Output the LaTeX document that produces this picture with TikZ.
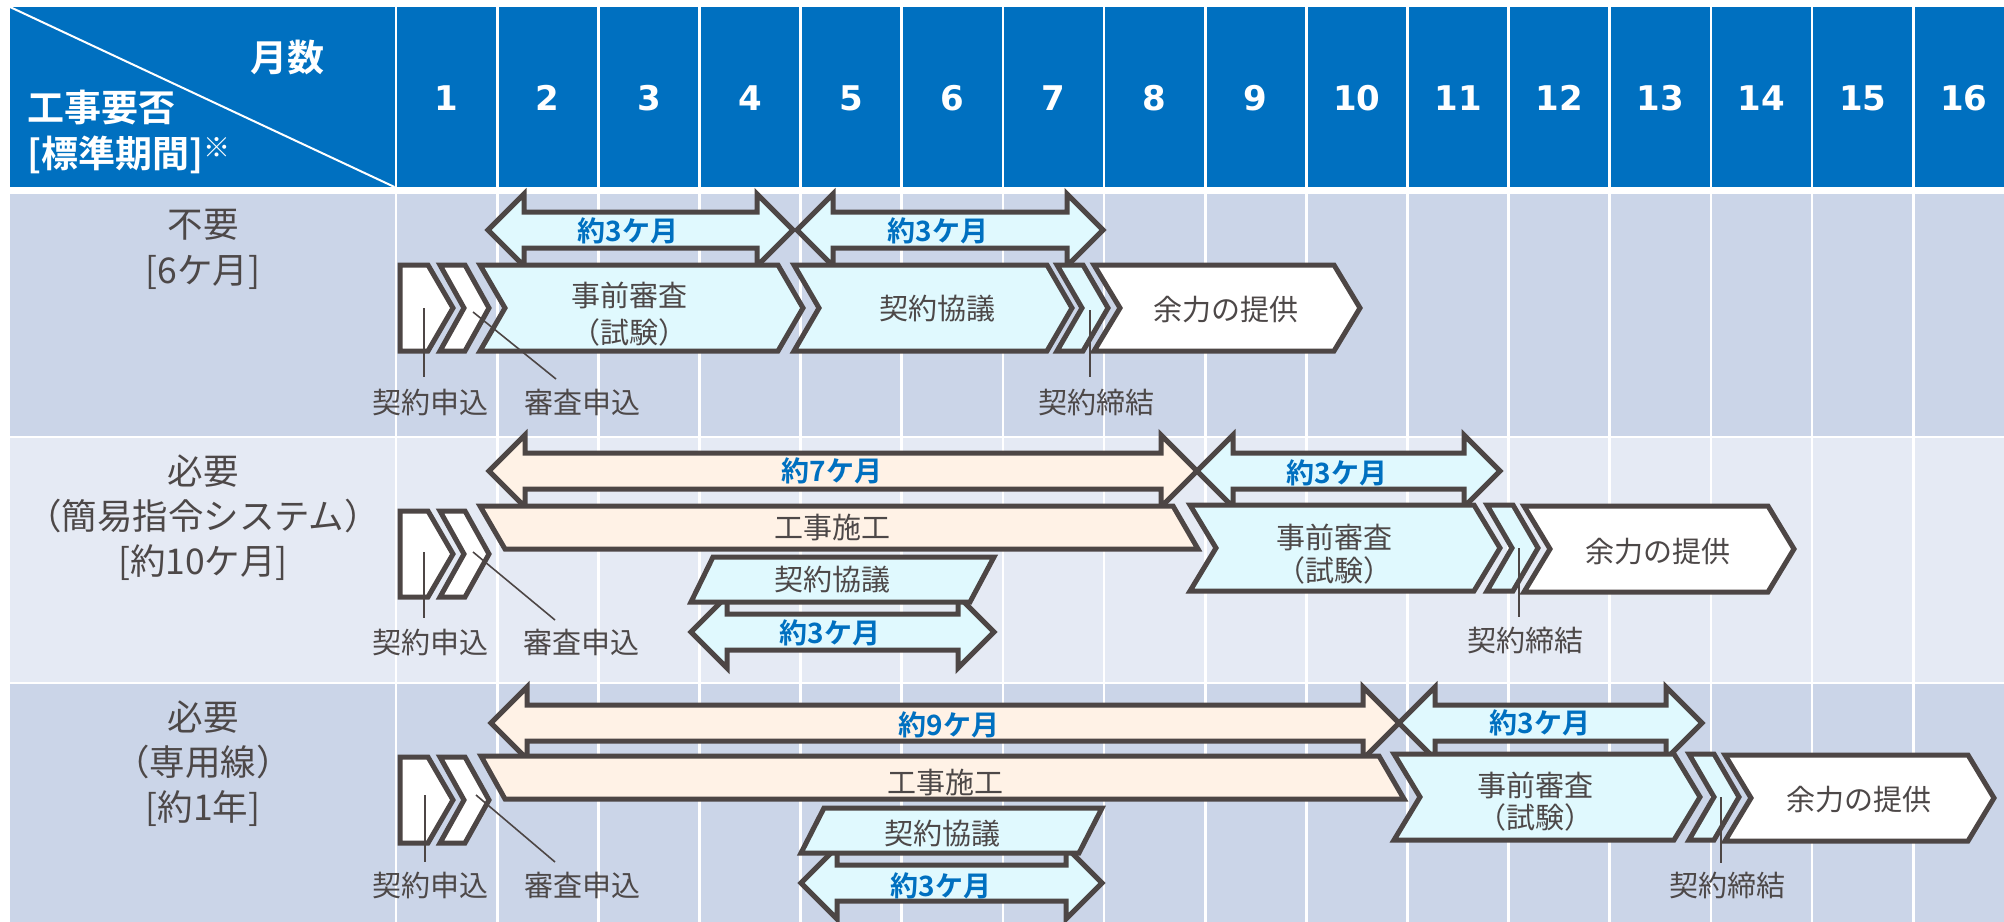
\documentclass[tikz,border=0pt]{standalone}
\usepackage{fontspec}
\setmainfont{Noto Sans CJK JP}[BoldFont={Noto Sans CJK JP Bold}]
\newfontfamily\numfont{DejaVu Sans}
\definecolor{hdrblue}{HTML}{0070C0}
\definecolor{rowA}{HTML}{CBD5E8}
\definecolor{rowB}{HTML}{E5EAF4}
\definecolor{cyanf}{HTML}{E0F9FE}
\definecolor{peach}{HTML}{FFF2E6}
\definecolor{edge}{HTML}{4D4645}
\definecolor{txt}{HTML}{4D4848}
\definecolor{blu}{HTML}{0070C0}
\tikzset{
  lab/.style={font=\fontsize{29bp}{34bp}\selectfont, text=txt, inner sep=0pt},
  big/.style={font=\fontsize{35.5bp}{40bp}\selectfont, text=txt, inner sep=0pt},
  dur/.style={font=\bfseries\fontsize{28bp}{32bp}\selectfont, text=blu, inner sep=0pt},
  hdr/.style={font=\bfseries\fontsize{37bp}{42bp}\selectfont, text=white, inner sep=0pt},
  num/.style={font=\numfont\bfseries\fontsize{34bp}{38bp}\selectfont, text=white, inner sep=0pt},
  shp/.style={draw=edge, line width=5bp, line join=miter},
  cy/.style={shp, fill=cyanf},
  pe/.style={shp, fill=peach},
  wh/.style={shp, fill=white},
  lead/.style={draw=edge, line width=1.6bp},
}
% chevron: style, TL x, TR x, depth, centre y
\newcommand\mychev[5]{\draw[#1] (#2,{#5-43}) -- (#3,{#5-43}) -- ({#3+#4},#5) -- (#3,{#5+43}) -- (#2,{#5+43}) -- ({#2+#4},#5) -- cycle;}
% box with pointed end
\newcommand\mybox[5]{\draw[#1] (#2,{#5-43}) -- (#3,{#5-43}) -- ({#3+#4},#5) -- (#3,{#5+43}) -- (#2,{#5+43}) -- cycle;}
% double arrow: style, left tip, right tip, centre y
\newcommand\mydarr[4]{\draw[#1] (#2,#4) -- ({#2+36},{#4-36}) -- ({#2+36},{#4-18}) -- ({#3-36},{#4-18}) -- ({#3-36},{#4-36}) -- (#3,#4) -- ({#3-36},{#4+36}) -- ({#3-36},{#4+18}) -- ({#2+36},{#4+18}) -- ({#2+36},{#4+36}) -- cycle;}
\begin{document}
\begin{tikzpicture}[x=1bp,y=-1bp]
\useasboundingbox (0,0) rectangle (2004,922);
\fill[white] (0,0) rectangle (2004,922);
% grid
\fill[hdrblue] (10,7) rectangle (2004,187);
\fill[rowA] (10,194) rectangle (2004,435.5);
\fill[rowB] (10,438) rectangle (2004,681.5);
\fill[rowA] (10,684) rectangle (2004,922);
\foreach \k in {0,...,15} \fill[white] ({396+\k*101.15-1.35},7) rectangle ++(2.7,915);
\draw[white, line width=2bp] (10,7) -- (394.5,187);
% header
\node[hdr] (hm) at (287,57) {月数};
\node[hdr, anchor=west] (hk) at (27,108) {工事要否};
\node[hdr, anchor=west] (hp) at (27,155) {[標準期間]\raisebox{10bp}{\fontsize{27bp}{27bp}\selectfont ※}};
\foreach \k in {1,...,16} \node[num] (m\k) at ({396+(\k-0.5)*101.15},98) {\k};
% left column
\node[big] (r1a) at (203,225) {不要};
\node[big] (r1b) at (203,272) {[6ケ月]};
\node[big] (r2a) at (203,471) {必要};
\node[big] (r2b) at (203,516) {（簡易指令システム）};
\node[big] (r2c) at (203,563) {[約10ケ月]};
\node[big] (r3a) at (203,717) {必要};
\node[big] (r3b) at (203,762) {（専用線）};
\node[big] (r3c) at (203,809) {[約1年]};
% ---------------- row 1
\mydarr{cy}{488}{793}{230}
\mydarr{cy}{797}{1103}{230}
\mybox{wh}{400}{428}{25}{308}
\mychev{wh}{440}{465}{24}{308}
\mychev{cy}{480}{778}{25}{308}
\mychev{cy}{794}{1047}{25}{308}
\mychev{cy}{1057}{1083}{25}{308}
\mychev{wh}{1094}{1334}{26}{308}
\node[dur] (d1a) at (628,231) {約3ケ月};
\node[dur] (d1b) at (938,231) {約3ケ月};
\node[lab] (t1a) at (629,295) {事前審査};
\node[lab] (t1b) at (629,332) {（試験）};
\node[lab] (t1c) at (937,309) {契約協議};
\node[lab] (t1d) at (1226,310) {余力の提供};
\node[lab] (l1a) at (430,402) {契約申込};
\node[lab] (l1b) at (582,402) {審査申込};
\node[lab] (l1c) at (1096,402) {契約締結};
\coordinate (s1a) at (424,308); \coordinate (e1a) at (424,377);
\coordinate (s1b) at (473,312); \coordinate (e1b) at (556,379);
\coordinate (s1c) at (1090,310); \coordinate (e1c) at (1090,377);
\draw[lead] (s1a) -- (e1a);
\draw[lead] (s1b) -- (e1b);
\draw[lead] (s1c) -- (e1c);
% ---------------- row 2
\mydarr{pe}{489}{1197}{471}
\mydarr{cy}{1197}{1500}{471}
\mydarr{cy}{691}{994}{632}
\draw[pe] (480,506) -- (1173,506) -- (1198,549) -- (505,549) -- cycle;
\draw[cy] (713,557) -- (994,557) -- (970,602) -- (691,602) -- cycle;
\mybox{wh}{400}{428}{25}{554}
\mychev{wh}{440}{465}{24}{554}
\mychev{cy}{1190}{1474}{26}{548}
\mychev{cy}{1487}{1513}{25}{548}
\mychev{wh}{1524}{1768}{26}{549}
\node[dur] (d2a) at (832,471) {約7ケ月};
\node[dur] (d2b) at (1337,473) {約3ケ月};
\node[dur] (d2c) at (830,633) {約3ケ月};
\node[lab] (t2a) at (832,528) {工事施工};
\node[lab] (t2b) at (832,580) {契約協議};
\node[lab] (t2c) at (1334,537) {事前審査};
\node[lab] (t2d) at (1334,570) {（試験）};
\node[lab] (t2e) at (1658,552) {余力の提供};
\node[lab] (l2a) at (430,642) {契約申込};
\node[lab] (l2b) at (581,642) {審査申込};
\node[lab] (l2c) at (1525,640) {契約締結};
\coordinate (s2a) at (424,552); \coordinate (e2a) at (424,618);
\coordinate (s2b) at (473,552); \coordinate (e2b) at (555,620);
\coordinate (s2c) at (1519,548); \coordinate (e2c) at (1519,617);
\draw[lead] (s2a) -- (e2a);
\draw[lead] (s2b) -- (e2b);
\draw[lead] (s2c) -- (e2c);
% ---------------- row 3
\mydarr{pe}{491}{1399}{723}
\mydarr{cy}{1399}{1702}{723}
\mydarr{cy}{801}{1102}{883}
\draw[pe] (481,756) -- (1379,756) -- (1404,799) -- (505,799) -- cycle;
\draw[cy] (824,808) -- (1102,808) -- (1079,853) -- (801,853) -- cycle;
\mybox{wh}{400}{428}{25}{800}
\mychev{wh}{440}{465}{24}{800}
\mychev{cy}{1394}{1674}{26}{797}
\mychev{cy}{1689}{1714}{25}{797}
\mychev{wh}{1725}{1968}{26}{798}
\node[dur] (d3a) at (949,725) {約9ケ月};
\node[dur] (d3b) at (1540,723) {約3ケ月};
\node[dur] (d3c) at (941,886) {約3ケ月};
\node[lab] (t3a) at (945,782) {工事施工};
\node[lab] (t3b) at (942,834) {契約協議};
\node[lab] (t3c) at (1535,785) {事前審査};
\node[lab] (t3d) at (1535,817) {（試験）};
\node[lab] (t3e) at (1859,800) {余力の提供};
\node[lab] (l3a) at (430,885) {契約申込};
\node[lab] (l3b) at (582,885) {審査申込};
\node[lab] (l3c) at (1727,885) {契約締結};
\coordinate (s3a) at (425,795); \coordinate (e3a) at (425,862);
\coordinate (s3b) at (476,795); \coordinate (e3b) at (555,862);
\coordinate (s3c) at (1721,797); \coordinate (e3c) at (1721,863);
\draw[lead] (s3a) -- (e3a);
\draw[lead] (s3b) -- (e3b);
\draw[lead] (s3c) -- (e3c);
\end{tikzpicture}
\end{document}
